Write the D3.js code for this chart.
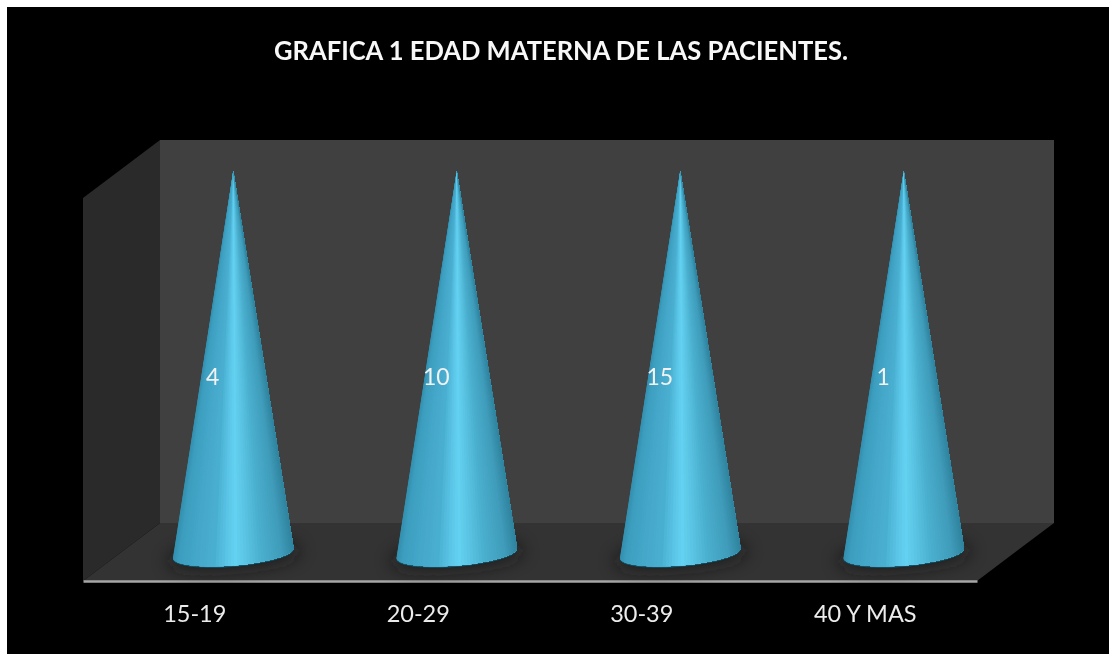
<!DOCTYPE html>
<html>
<head>
<meta charset="utf-8">
<script src="https://cdn.jsdelivr.net/npm/d3@7"></script>
<style>
html, body { margin: 0; padding: 0; background: #fff; overflow: hidden; }
svg { display: block; }
text { font-family: Lato, "Open Sans", sans-serif; }
</style>
</head>
<body>
<script>
var categories = ['15-19', '20-29', '30-39', '40 Y MAS'];
var pacientes = [4, 10, 15, 1];
// 100% chart: every cone reaches the top of the axis
var porcentaje = [100, 100, 100, 100];
var titulo = 'GRAFICA 1 EDAD MATERNA DE LAS PACIENTES.';

var width = 1109, height = 654;
var left = 83, right = 977, floorY = 581;   // front edge of the floor
var depthX = 77, depthY = 58;               // 3d offset to back wall
var wallTop = 198;

var svg = d3.select('body').append('svg').attr('width', width).attr('height', height);
var defs = svg.append('defs');
defs.append('filter').attr('id', 'sombra')
    .attr('x', '-50%').attr('y', '-200%').attr('width', '200%').attr('height', '500%')
    .append('feGaussianBlur').attr('stdDeviation', 9);
defs.append('filter').attr('id', 'suave')
    .append('feGaussianBlur').attr('stdDeviation', 0.6);
defs.append('filter').attr('id', 'letra')
    .append('feGaussianBlur').attr('stdDeviation', 0.3);

svg.append('rect').attr('x', 7).attr('y', 7).attr('width', width - 7).attr('height', height - 7).attr('fill', '#000');

var x = d3.scaleBand().domain(categories).range([left, right]);
var y = d3.scaleLinear().domain([0, 100]).range([553, 171]);

// walls and floor
var line = d3.line();
svg.append('path').attr('fill', '#404040')
    .attr('d', line([[left + depthX, wallTop - depthY], [right + depthX, wallTop - depthY], [right + depthX, floorY - depthY], [left + depthX, floorY - depthY]]) + 'Z');
svg.append('path').attr('fill', '#2a2a2a')
    .attr('d', line([[left, wallTop], [left + depthX, wallTop - depthY], [left + depthX, floorY - depthY], [left, floorY]]) + 'Z');
svg.append('path').attr('fill', '#333333')
    .attr('d', line([[left, floorY], [left + depthX, floorY - depthY], [right + depthX, floorY - depthY], [right, floorY]]) + 'Z');

// axis: the domain line is the light front edge of the floor
var axis = svg.append('g').attr('transform', 'translate(0,' + floorY + ')')
    .call(d3.axisBottom(x).tickSize(0).tickPadding(24));
axis.select('.domain').attr('stroke', '#a6a6a6').attr('stroke-width', 2.5);
axis.selectAll('text').attr('fill', '#ececec').attr('filter', 'url(#letra)').style('font-size', '23.5px')
    .style('font-family', 'Lato, "Open Sans", sans-serif');

// cone shading, position across the base 0..1
var shade = d3.scaleLinear()
    .domain([0, 0.05, 0.2, 0.34, 0.45, 0.52, 0.6, 0.74, 0.9, 1])
    .range(['#348fae', '#3d9ebf', '#45a8ca', '#4aafd1', '#5bc6e7', '#64d2f2', '#5bc5e5', '#4aaecd', '#3f9cba', '#30849f']);

var radius = 60.5, ry = 12.5, tilt = -4.8 * Math.PI / 180;
function basePoint(cx, cy, a) {
    var ex = radius * Math.cos(a), ey = ry * Math.sin(a);
    return [cx + ex * Math.cos(tilt) - ey * Math.sin(tilt), cy + ex * Math.sin(tilt) + ey * Math.cos(tilt)];
}

var cones = svg.selectAll('.cono').data(categories).enter().append('g').attr('class', 'cono')
    .attr('transform', function(d) { return 'translate(' + (x(d) + x.bandwidth() / 2 + depthX / 2) + ',0)'; });

cones.append('ellipse').attr('cx', 0).attr('cy', y(0) + 3).attr('rx', radius + 6).attr('ry', 13)
    .attr('transform', 'rotate(-4.8 0 ' + y(0) + ')')
    .attr('fill', '#141414').attr('opacity', 0.75).attr('filter', 'url(#sombra)');

var steps = 60;
cones.each(function(d, i) {
    var g = d3.select(this).append('g').attr('filter', 'url(#suave)');
    var apex = [0, y(porcentaje[i])];
    var arc = d3.range(steps + 1).map(function(k) {
        return basePoint(0, y(0), Math.PI - Math.PI * k / steps);
    });
    // dark rim under the base
    g.append('path').attr('d', line(arc.map(function(p) { return [p[0], p[1] + 1.3]; })) + 'Z').attr('fill', '#12556b');
    // paint left to right, each piece runs to the far edge so no seams show
    for (var k = 0; k < steps; k++) {
        var t = (arc[k][0] + arc[k + 1][0] + 2 * radius) / (4 * radius);
        g.append('path').attr('d', line([apex].concat(arc.slice(k))) + 'Z').attr('fill', shade(t));
    }
});

svg.selectAll('.valor').data(pacientes).enter().append('text').attr('class', 'valor')
    .attr('x', function(d, i) { return x(categories[i]) + x.bandwidth() / 2 + 18; })
    .attr('y', y(46)).attr('dy', '0.35em')
    .attr('text-anchor', 'middle').attr('fill', '#f2f2f2').attr('filter', 'url(#letra)').style('font-size', '23px')
    .text(function(d) { return d; });

svg.append('text').attr('x', 561).attr('y', 60).attr('text-anchor', 'middle')
    .attr('textLength', 574).attr('lengthAdjust', 'spacingAndGlyphs')
    .attr('fill', '#f8f8f8').attr('filter', 'url(#letra)').style('font-size', '27px').style('font-weight', 'bold')
    .text(titulo);
</script>
</body>
</html>
